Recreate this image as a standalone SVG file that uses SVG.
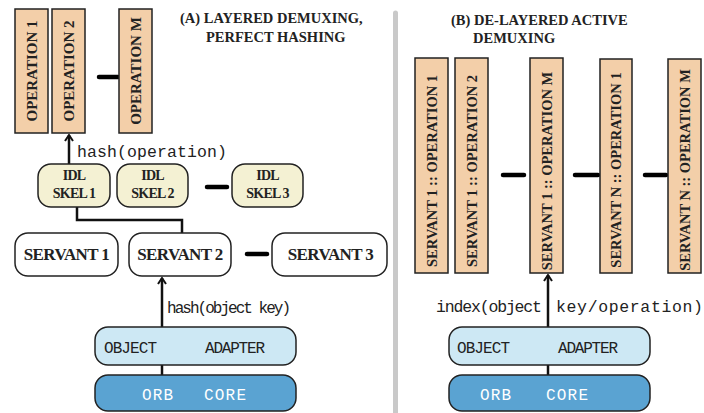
<svg xmlns="http://www.w3.org/2000/svg" width="704" height="413" viewBox="0 0 704 413">
  <defs>
    <marker id="arrowhead" markerWidth="10" markerHeight="10" refX="7" refY="5" orient="auto" markerUnits="userSpaceOnUse">
      <path d="M1,1 L7,5 L1,9" fill="none" stroke="#111" stroke-width="2"/>
    </marker>
    <style>
      .op { fill: #f3cfa9; stroke: #222; stroke-width: 1.5; }
      .skel { fill: #f4f1d3; stroke: #222; stroke-width: 1.5; }
      .servant { fill: #ffffff; stroke: #222; stroke-width: 1.5; }
      .oa { fill: #cde8f4; stroke: #222; stroke-width: 1.5; }
      .orb { fill: #5aa3d2; stroke: #222; stroke-width: 1.5; }
      .bold { font-family: "Liberation Serif", "Times New Roman", serif; font-weight: bold; fill: #222; }
      .mono { font-family: "Liberation Mono", "Courier New", monospace; fill: #222; }
      .light { fill: #ffffff; }
      .vtext { font-family: "Liberation Serif", "Times New Roman", serif; font-weight: bold; fill: #222; text-anchor: middle; dominant-baseline: central; }
      .wire { fill: none; stroke: #111; stroke-width: 2.5; }
      .dash { stroke: #000; stroke-width: 4.5; stroke-linecap: round; }
    </style>
  </defs>

  <rect width="704" height="413" fill="#ffffff"/>

  <!-- divider between the two panels -->
  <line x1="395.5" y1="13" x2="395.5" y2="413" stroke="#c9c9c9" stroke-width="5" stroke-linecap="round"/>

  <!-- titles -->
  <g id="title-a" class="bold" font-size="14.5">
    <text x="180" y="23">(A) LAYERED DEMUXING,</text>
    <text x="206" y="42">PERFECT HASHING</text>
  </g>
  <g id="title-b" class="bold" font-size="14.5">
    <text x="451" y="25">(B) DE-LAYERED ACTIVE</text>
    <text x="473" y="43">DEMUXING</text>
  </g>

  <!-- connectors -->
  <g id="connectors">
    <line class="wire" x1="69" y1="165" x2="69" y2="135" marker-end="url(#arrowhead)"/>
    <path class="wire" d="M77,207 V220 H182 V233"/>
    <line class="wire" x1="162" y1="327" x2="162" y2="278" marker-end="url(#arrowhead)"/>
    <line class="wire" x1="162" y1="365" x2="162" y2="375"/>
    <line class="wire" x1="548" y1="327" x2="548" y2="275" marker-end="url(#arrowhead)"/>
    <line class="wire" x1="548" y1="365" x2="548" y2="375"/>
    <!-- ellipsis dashes -->
    <line class="dash" x1="99" y1="77" x2="118" y2="77"/>
    <line class="dash" x1="207" y1="187" x2="227" y2="187"/>
    <line class="dash" x1="247" y1="254" x2="267" y2="254"/>
    <line class="dash" x1="503" y1="175" x2="524" y2="175"/>
    <line class="dash" x1="575" y1="175" x2="598" y2="175"/>
    <line class="dash" x1="645" y1="175" x2="666" y2="175"/>
  </g>

  <!-- connector labels -->
  <text class="mono" x="77" y="157" font-size="16.5" textLength="150">hash(operation)</text>
  <text class="mono" x="167" y="313" font-size="16" textLength="124">hash(object key)</text>
  <text class="mono" y="312" font-size="16.5"><tspan x="436" textLength="106">index(object</tspan> <tspan x="556" textLength="147">key/operation)</tspan></text>

  <!-- panel A: operations -->
  <g id="op-a1">
    <rect class="op" x="15" y="9" width="33" height="124"/>
    <text class="vtext" font-size="15" transform="translate(31.5,71) rotate(-90)">OPERATION 1</text>
  </g>
  <g id="op-a2">
    <rect class="op" x="52" y="9" width="33" height="124"/>
    <text class="vtext" font-size="15" transform="translate(68.5,71) rotate(-90)">OPERATION 2</text>
  </g>
  <g id="op-am">
    <rect class="op" x="119" y="9" width="33" height="124"/>
    <text class="vtext" font-size="15" transform="translate(135.5,71) rotate(-90)">OPERATION M</text>
  </g>

  <!-- panel A: skeletons -->
  <g id="skel-1">
    <rect class="skel" x="38" y="164" width="72" height="43" rx="13"/>
    <text class="bold" font-size="14" x="74" y="180" text-anchor="middle" letter-spacing="-0.8">IDL</text>
    <text class="bold" font-size="14" x="74" y="198" text-anchor="middle" letter-spacing="-0.8">SKEL 1</text>
  </g>
  <g id="skel-2">
    <rect class="skel" x="117" y="164" width="71" height="43" rx="13"/>
    <text class="bold" font-size="14" x="152.5" y="180" text-anchor="middle" letter-spacing="-0.8">IDL</text>
    <text class="bold" font-size="14" x="152.5" y="198" text-anchor="middle" letter-spacing="-0.8">SKEL 2</text>
  </g>
  <g id="skel-3">
    <rect class="skel" x="232" y="164" width="71" height="43" rx="13"/>
    <text class="bold" font-size="14" x="267.5" y="180" text-anchor="middle" letter-spacing="-0.8">IDL</text>
    <text class="bold" font-size="14" x="267.5" y="198" text-anchor="middle" letter-spacing="-0.8">SKEL 3</text>
  </g>

  <!-- panel A: servants -->
  <g id="servant-1">
    <rect class="servant" x="15" y="233" width="103" height="43" rx="13"/>
    <text class="bold" font-size="17" x="66.5" y="260" text-anchor="middle" letter-spacing="-0.6">SERVANT 1</text>
  </g>
  <g id="servant-2">
    <rect class="servant" x="129" y="233" width="102" height="43" rx="13"/>
    <text class="bold" font-size="17" x="180" y="260" text-anchor="middle" letter-spacing="-0.6">SERVANT 2</text>
  </g>
  <g id="servant-3">
    <rect class="servant" x="272" y="233" width="115" height="43" rx="13"/>
    <text class="bold" font-size="17" x="330.5" y="260" text-anchor="middle" letter-spacing="-0.6">SERVANT 3</text>
  </g>

  <!-- panel A: adapter and core -->
  <g id="adapter-a">
    <rect class="oa" x="95" y="327" width="201" height="38" rx="13"/>
    <text class="mono" font-size="16" x="104" y="353" textLength="53">OBJECT</text>
    <text class="mono" font-size="16" x="205" y="353" textLength="60">ADAPTER</text>
  </g>
  <g id="core-a">
    <rect class="orb" x="95" y="375" width="201" height="36" rx="13"/>
    <text class="mono light" font-size="16" x="142" y="400" textLength="31">ORB</text>
    <text class="mono light" font-size="16" x="204" y="400" textLength="42">CORE</text>
  </g>

  <!-- panel B: servant operations -->
  <g id="op-b1">
    <rect class="op" x="415" y="58" width="33" height="215"/>
    <text class="vtext" font-size="14.5" transform="translate(431.5,171) rotate(-90)">SERVANT 1 :: OPERATION 1</text>
  </g>
  <g id="op-b2">
    <rect class="op" x="455" y="58" width="33" height="215"/>
    <text class="vtext" font-size="14.5" transform="translate(471.5,171) rotate(-90)">SERVANT 1 :: OPERATION 2</text>
  </g>
  <g id="op-b3">
    <rect class="op" x="530" y="58" width="33" height="215"/>
    <text class="vtext" font-size="14.5" transform="translate(546.5,171) rotate(-90)">SERVANT 1 :: OPERATION M</text>
  </g>
  <g id="op-b4">
    <rect class="op" x="600" y="59" width="32" height="214"/>
    <text class="vtext" font-size="14.5" transform="translate(616,170) rotate(-90)">SERVANT N :: OPERATION 1</text>
  </g>
  <g id="op-b5">
    <rect class="op" x="668" y="59" width="33" height="214"/>
    <text class="vtext" font-size="14.5" transform="translate(684.5,170) rotate(-90)">SERVANT N :: OPERATION M</text>
  </g>

  <!-- panel B: adapter and core -->
  <g id="adapter-b">
    <rect class="oa" x="449" y="327" width="201" height="38" rx="13"/>
    <text class="mono" font-size="16" x="457" y="353" textLength="53">OBJECT</text>
    <text class="mono" font-size="16" x="558" y="353" textLength="60">ADAPTER</text>
  </g>
  <g id="core-b">
    <rect class="orb" x="449" y="375" width="201" height="36" rx="13"/>
    <text class="mono light" font-size="16" x="480" y="400" textLength="31">ORB</text>
    <text class="mono light" font-size="16" x="546" y="400" textLength="42">CORE</text>
  </g>
</svg>
